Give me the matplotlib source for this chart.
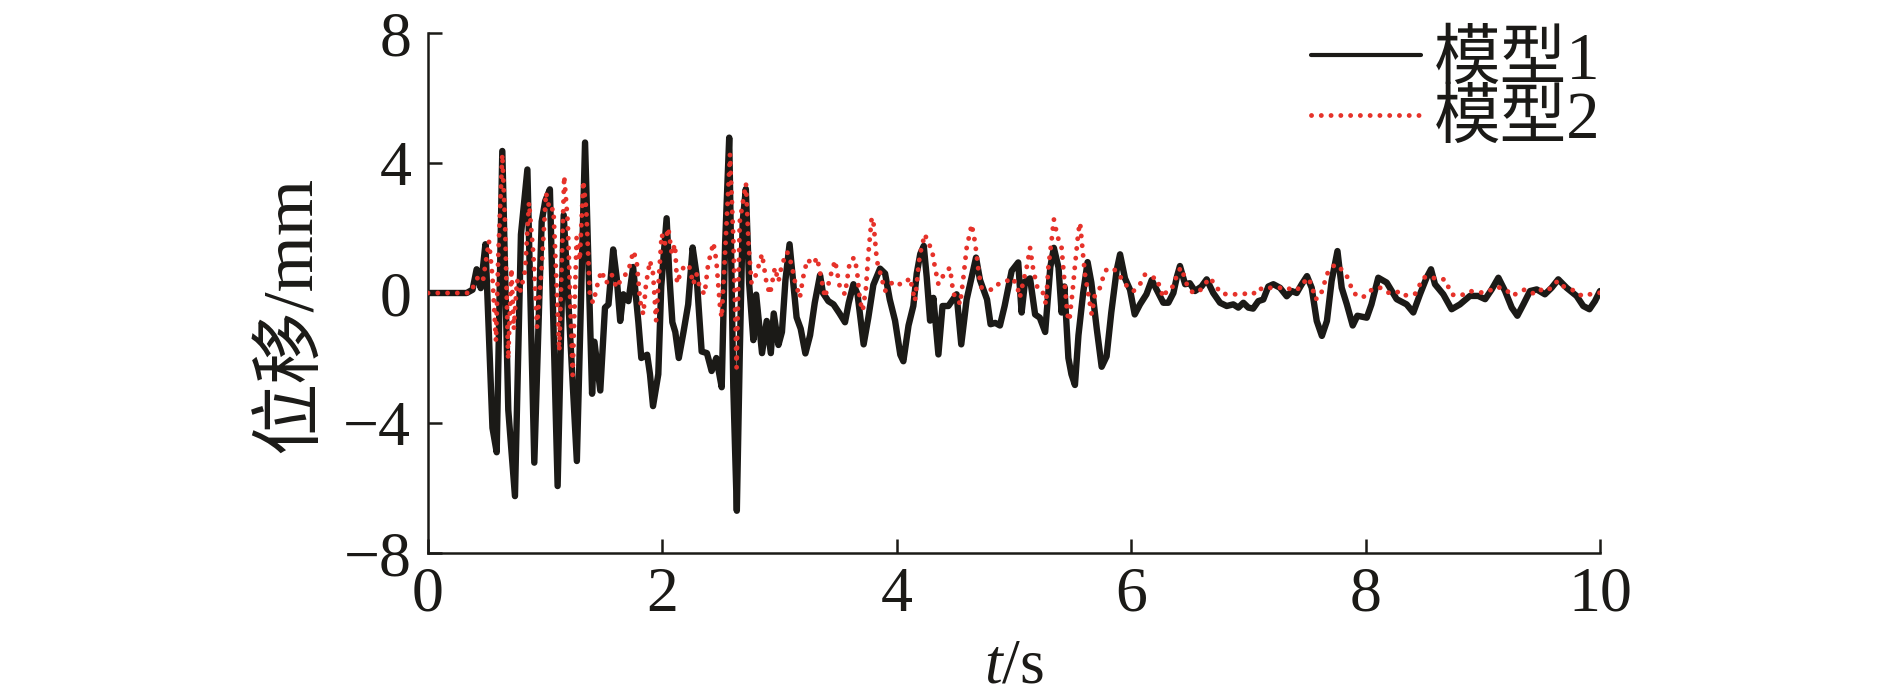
import matplotlib
matplotlib.use("Agg")
import matplotlib.pyplot as plt
import numpy as np

# ---------------- data ----------------
t_model1 = [
    0, 0.33, 0.38, 0.415, 0.45, 0.49, 0.55, 0.586, 0.634, 0.685,
    0.742, 0.793, 0.848, 0.907, 0.97, 1.0, 1.04, 1.106, 1.158, 1.27,
    1.34, 1.4, 1.42, 1.47, 1.51, 1.54, 1.58, 1.61, 1.64, 1.667,
    1.71, 1.75, 1.795, 1.82, 1.87, 1.894, 1.92, 1.965, 1.99, 2.036,
    2.06, 2.085, 2.11, 2.14, 2.18, 2.22, 2.258, 2.29, 2.335, 2.38,
    2.42, 2.46, 2.506, 2.535, 2.57, 2.605, 2.635, 2.66, 2.685, 2.712,
    2.74, 2.776, 2.8, 2.85, 2.89, 2.925, 2.95, 2.99, 3.02, 3.05,
    3.085, 3.145, 3.18, 3.22, 3.26, 3.3, 3.345, 3.37, 3.416, 3.46,
    3.51, 3.558, 3.59, 3.63, 3.665, 3.717, 3.757, 3.8, 3.857, 3.9,
    3.94, 3.985, 4.03, 4.056, 4.1, 4.141, 4.17, 4.2, 4.23, 4.255,
    4.284, 4.312, 4.355, 4.39, 4.44, 4.51, 4.55, 4.596, 4.639, 4.676,
    4.71, 4.74, 4.77, 4.8, 4.84, 4.88, 4.92, 4.98, 5.036, 5.065,
    5.094, 5.137, 5.18, 5.22, 5.266, 5.31, 5.34, 5.38, 5.406, 5.43,
    5.464, 5.49, 5.52, 5.55, 5.59, 5.628, 5.66, 5.706, 5.748, 5.79,
    5.83, 5.876, 5.905, 5.947, 5.99, 6.03, 6.075, 6.13, 6.175, 6.217,
    6.274, 6.317, 6.36, 6.39, 6.416, 6.46, 6.5, 6.544, 6.6, 6.644,
    6.7, 6.758, 6.815, 6.871, 6.914, 6.957, 7.0, 7.04, 7.085, 7.127,
    7.17, 7.213, 7.27, 7.327, 7.37, 7.412, 7.455, 7.5, 7.54, 7.583,
    7.627, 7.67, 7.71, 7.76, 7.796, 7.84, 7.89, 7.93, 8.01, 8.05,
    8.108, 8.18, 8.265, 8.35, 8.407, 8.464, 8.52, 8.558, 8.592, 8.663,
    8.734, 8.805, 8.89, 8.96, 9.02, 9.076, 9.133, 9.19, 9.247, 9.295,
    9.346, 9.403, 9.46, 9.53, 9.587, 9.644, 9.715, 9.8, 9.857, 9.91,
    9.957, 10.0,
]
disp_model1 = [
    0, 0, 0.1, 0.73, 0.15, 1.5, -4.15, -4.9, 4.37, -3.6,
    -6.25, 1.8, 3.8, -5.22, 2.2, 2.83, 3.19, -5.94, 2.4, -5.17,
    4.63, -3.1, -1.5, -3.0, -0.45, -0.35, 1.34, 0.47, -0.86, -0.04,
    -0.25, 0.8, -0.9, -2.0, -1.9, -2.5, -3.48, -2.5, 0.2, 2.3,
    0.5, -0.9, -1.2, -2.0, -1.2, -0.35, 1.4, 0.6, -1.8, -1.85,
    -2.4, -2.0, -2.9, 1.5, 4.78, -2.9, -6.7, -1.9, 2.2, 3.2,
    0.3, -1.45, -0.05, -1.85, -0.86, -1.85, -0.63, -1.6, -1.2, 0.4,
    1.5, -0.75, -1.1, -1.86, -1.3, -0.3, 0.55, 0.0, -0.25, -0.35,
    -0.62, -0.9, -0.3, 0.27, -0.04, -1.58, -0.76, 0.25, 0.75, 0.6,
    -0.2, -0.85, -1.9, -2.1, -1.0, -0.4, 0.6, 1.2, 1.45, 0.5,
    -0.85, -0.15, -1.89, -0.4, -0.4, -0.04, -1.58, -0.2, 0.5, 1.09,
    0.4, 0.1, -0.2, -0.96, -0.92, -1.0, -0.4, 0.68, 0.94, -0.6,
    0.35, 0.45, -0.66, -0.76, -1.2, 0.8, 1.39, 0.78, -0.6, 0.2,
    -2.0, -2.5, -2.83, -1.3, 0.0, 0.95, 0.32, -1.1, -2.27, -1.95,
    -0.6, 0.7, 1.19, 0.45, 0.1, -0.66, -0.35, -0.04, 0.4, 0.1,
    -0.3, -0.3, 0.0, 0.5, 0.83, 0.27, 0.3, 0.06, 0.2, 0.42,
    0.0, -0.3, -0.4, -0.35, -0.45, -0.3, -0.45, -0.48, -0.25, -0.2,
    0.2, 0.27, 0.16, -0.1, 0.06, 0.0, 0.27, 0.52, 0.16, -0.86,
    -1.32, -0.86, 0.37, 1.29, 0.16, -0.35, -1.0, -0.7, -0.76, -0.35,
    0.47, 0.32, -0.19, -0.35, -0.6, -0.04, 0.47, 0.73, 0.27, -0.04,
    -0.5, -0.35, -0.09, -0.09, -0.19, 0.11, 0.47, 0.06, -0.45, -0.7,
    -0.35, 0.06, 0.11, -0.04, 0.16, 0.42, 0.16, -0.09, -0.4, -0.5,
    -0.25, 0.06,
]

t_model2 = [
    0, 0.36, 0.43, 0.47, 0.52, 0.55, 0.58, 0.6, 0.634, 0.657,
    0.684, 0.712, 0.732, 0.76, 0.79, 0.828, 0.862, 0.899, 0.93, 0.97,
    1.007, 1.04, 1.07, 1.12, 1.162, 1.192, 1.234, 1.268, 1.295, 1.325,
    1.35, 1.382, 1.41, 1.453, 1.48, 1.52, 1.567, 1.61, 1.64, 1.71,
    1.752, 1.78, 1.81, 1.837, 1.86, 1.894, 1.92, 1.946, 1.994, 2.02,
    2.05, 2.08, 2.107, 2.125, 2.15, 2.193, 2.23, 2.264, 2.29, 2.32,
    2.36, 2.39, 2.435, 2.46, 2.492, 2.506, 2.534, 2.577, 2.605, 2.633,
    2.66, 2.713, 2.735, 2.76, 2.8, 2.85, 2.89, 2.918, 2.96, 2.99,
    3.02, 3.065, 3.1, 3.13, 3.173, 3.2, 3.236, 3.287, 3.32, 3.36,
    3.387, 3.416, 3.44, 3.473, 3.515, 3.558, 3.6, 3.638, 3.66, 3.686,
    3.709, 3.737, 3.757, 3.786, 3.8, 3.83, 3.87, 3.9, 3.942, 3.985,
    4.027, 4.07, 4.113, 4.155, 4.19, 4.21, 4.24, 4.27, 4.297, 4.325,
    4.355, 4.39, 4.426, 4.454, 4.483, 4.51, 4.54, 4.568, 4.596, 4.639,
    4.668, 4.7, 4.724, 4.78, 4.82, 4.866, 4.9, 4.94, 4.98, 5.023,
    5.05, 5.08, 5.108, 5.137, 5.165, 5.2, 5.24, 5.273, 5.293, 5.32,
    5.34, 5.37, 5.406, 5.43, 5.455, 5.472, 5.5, 5.52, 5.55, 5.564,
    5.586, 5.606, 5.634, 5.663, 5.691, 5.734, 5.776, 5.82, 5.876, 5.93,
    5.976, 6.02, 6.075, 6.118, 6.17, 6.217, 6.245, 6.274, 6.317, 6.36,
    6.4, 6.43, 6.46, 6.487, 6.53, 6.58, 6.63, 6.667, 6.716, 6.76,
    6.815, 6.87, 6.928, 6.98, 7.04, 7.085, 7.127, 7.17, 7.23, 7.285,
    7.327, 7.37, 7.412, 7.455, 7.5, 7.54, 7.568, 7.61, 7.654, 7.682,
    7.725, 7.753, 7.8, 7.84, 7.867, 7.896, 7.952, 7.995, 8.037, 8.08,
    8.13, 8.194, 8.265, 8.308, 8.36, 8.42, 8.45, 8.49, 8.55, 8.606,
    8.677, 8.734, 8.777, 8.83, 8.89, 8.95, 9.005, 9.05, 9.105, 9.16,
    9.2, 9.247, 9.304, 9.36, 9.4, 9.445, 9.503, 9.56, 9.6, 9.644,
    9.686, 9.743, 9.8, 9.843, 9.9, 9.95, 10.0,
]
disp_model2 = [
    0, 0.0, 0.52, 0.4, 1.6, 0.5, -1.48, 1.19, 4.27, 2.2,
    -2.04, 0.75, -1.12, 0.4, 0.06, 0.68, 2.78, 1.19, -1.05, 0.78,
    3.09, 2.52, 2.6, -1.78, 3.6, 2.2, -2.52, 1.7, 1.0, 3.45,
    2.6, -0.14, -0.3, 0.37, 0.68, 0.3, 0.57, 0.16, 0.37, 0.68,
    1.29, 1.0, -0.25, -0.66, 0.27, 0.99, 0.6, -0.86, 1.81, 1.5,
    2.0, 1.2, 1.5, 0.3, 0.57, 0.88, 0.8, 0.27, 0.6, 0.16,
    -0.04, 0.88, 1.55, 1.0, -0.45, -0.76, 1.19, 4.27, 1.7, -2.3,
    2.2, 3.37, 1.5, 0.3, 0.57, 1.2, 0.27, -0.04, 0.78, 0.35,
    0.88, 1.26, 0.9, 0.37, -0.14, 0.47, 1.03, 0.88, 1.09, 0.37,
    -0.14, 0.27, 0.6, 1.0, 0.16, -0.04, 0.99, 1.09, 0.7, -0.25,
    -0.55, 0.16, 1.19, 2.32, 2.2, 0.99, 0.47, 0.06, 0.27, 0.37,
    0.27, 0.3, 0.47, -0.25, 0.99, 1.39, 1.81, 1.5, 1.39, 0.8,
    0.27, 0.5, 0.68, 0.78, -0.04, -0.1, -0.35, 0.47, 1.39, 2.11,
    1.55, 0.6, 0.16, 0.11, 0.1, 0.27, 0.32, 0.37, 0.47, 0.27,
    -0.14, 0.37, 0.78, 1.39, 0.7, 0.16, 0.1, -0.35, 0.78, 1.6,
    2.27, 1.75, 1.39, 0.4, -0.66, -0.86, 0.06, 0.83, 1.91, 2.16,
    1.29, 0.57, -0.04, -0.66, -0.04, 0.16, 0.68, 0.78, 0.68, 0.37,
    0.16, 0.06, 0.27, 0.57, 0.47, 0.47, 0.16, -0.14, 0.16, 0.2,
    0.68, 0.78, 0.4, 0.16, 0.0, 0.05, 0.27, 0.47, 0.27, 0.0,
    -0.04, -0.04, -0.04, -0.02, -0.04, 0.16, 0.1, 0.16, 0.16, 0.16,
    0.1, 0.16, 0.1, 0.21, 0.47, 0.27, -0.19, -0.14, 0.37, 0.68,
    0.83, 0.88, 0.7, 0.52, 0.27, 0.01, -0.14, -0.1, 0.06, 0.16,
    0.16, 0.01, 0.06, -0.09, -0.06, -0.04, 0.16, 0.47, 0.52, 0.42,
    0.42, -0.04, -0.09, -0.05, 0.06, 0.03, 0.01, 0.05, 0.18, 0.16,
    0.1, -0.09, 0.01, 0.11, 0.05, -0.04, 0.11, 0.08, 0.27, 0.37,
    0.21, 0.11, 0.06, -0.09, -0.04, -0.04, 0.01,
]

series_labels = ["模型1", "模型2"]
x_ticks = [0, 2, 4, 6, 8, 10]
y_ticks = [-8, -4, 0, 4, 8]

# ---------------- style ----------------
plt.rcParams["font.family"] = ["Liberation Serif", "Noto Sans CJK SC"]
plt.rcParams["mathtext.fontset"] = "custom"
plt.rcParams["mathtext.it"] = "Liberation Serif:italic"
plt.rcParams["mathtext.rm"] = "Liberation Serif"
plt.rcParams["axes.unicode_minus"] = True

BLACK = "#1b1a17"
RED = "#e6322a"

fig = plt.figure(figsize=(18.9, 6.95), dpi=100)
ax = fig.add_axes([428 / 1890, 1 - 553 / 695, (1600 - 428) / 1890, (553 - 33) / 695])

line1, = ax.plot(t_model1, disp_model1, color=BLACK, lw=4.6, solid_joinstyle="round",
                 solid_capstyle="round", label=series_labels[0], zorder=2)
line2, = ax.plot(t_model2, disp_model2, color=RED, lw=3.5, linestyle=(0, (0.01, 2.0)),
                 dash_capstyle="round", label=series_labels[1], zorder=3)

ax.set_xlim(0, 10)
ax.set_ylim(-8, 8)
ax.set_xticks(x_ticks)
ax.set_yticks(y_ticks)

for s in ["top", "right"]:
    ax.spines[s].set_visible(False)
for s in ["left", "bottom"]:
    ax.spines[s].set_linewidth(1.8)
    ax.spines[s].set_color(BLACK)

ax.tick_params(direction="in", length=10, width=1.8, colors=BLACK,
               labelsize=46, pad=10)
ax.tick_params(axis="y", pad=12)

ax.set_xlabel("$t$/s", fontsize=46, labelpad=10, color=BLACK)
ax.set_ylabel("位移/mm", fontsize=52, color=BLACK)
ax.yaxis.set_label_coords(-0.087, 0.458)

leg = ax.legend(loc="upper right", bbox_to_anchor=(1.0, 1.003), frameon=False,
                fontsize=48, handlelength=1.66, handletextpad=0.18,
                labelspacing=-0.03, borderaxespad=0.0, borderpad=0.0)
for txt in leg.get_texts():
    txt.set_color(BLACK)
leg.get_lines()[0].set_linewidth(3.0)

fig.savefig("out.png", dpi=100)
